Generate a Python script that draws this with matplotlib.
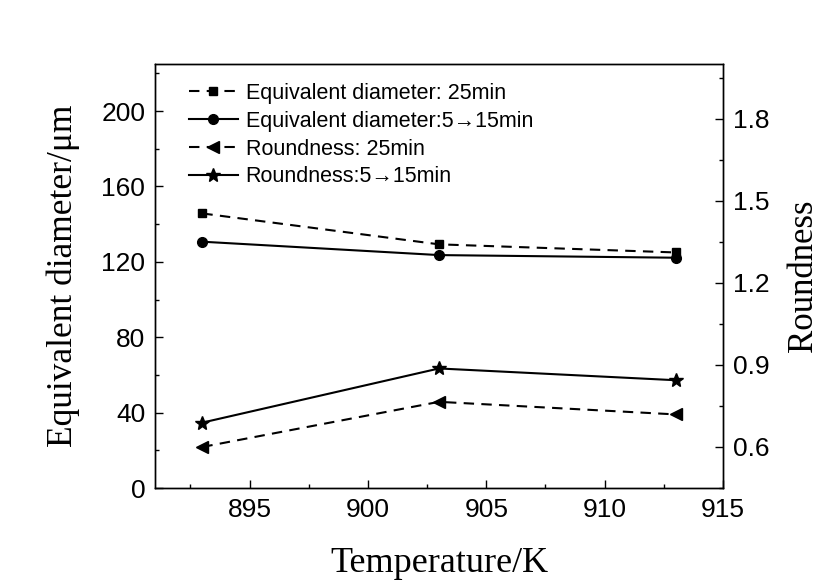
import matplotlib
matplotlib.use("Agg")
import matplotlib.pyplot as plt
from matplotlib.ticker import MultipleLocator

temperature = [893, 903, 913]
ed_25min = [145.7, 129.3, 125.0]
ed_5_15min = [130.7, 123.6, 122.2]
round_25min = [0.600, 0.765, 0.719]
round_5_15min = [0.689, 0.887, 0.844]

labels = ["Equivalent diameter: 25min",
          "Equivalent diameter:5\u219215min",
          "Roundness: 25min",
          "Roundness:5\u219215min"]

sans = ["Liberation Sans", "DejaVu Sans"]
serif = ["Liberation Serif", "DejaVu Serif"]
plt.rcParams['font.family'] = sans

fig = plt.figure(figsize=(8.23, 5.85), dpi=100)
ax1 = fig.add_axes([155/823, 1-488/585, (723-155)/823, (488-64)/585])
ax2 = ax1.twinx()

dash = (0, (5, 3.5))
lw = 1.5
l1, = ax1.plot(temperature, ed_25min, color='black', lw=lw, linestyle=dash,
               marker='s', ms=6)
l2, = ax1.plot(temperature, ed_5_15min, color='black', lw=lw, linestyle='-',
               marker='o', ms=7)
l3, = ax2.plot(temperature, round_25min, color='black', lw=lw, linestyle=dash,
               marker='<', ms=8)
l4, = ax2.plot(temperature, round_5_15min, color='black', lw=lw, linestyle='-',
               marker='*', ms=10.5)

ax1.set_xlim(891, 915)
ax1.set_ylim(0, 225)
ax2.set_ylim(0.45, 2.0)

ax1.xaxis.set_major_locator(MultipleLocator(5))
ax1.xaxis.set_minor_locator(MultipleLocator(2.5))
ax1.yaxis.set_major_locator(MultipleLocator(40))
ax1.yaxis.set_minor_locator(MultipleLocator(20))
ax2.yaxis.set_major_locator(MultipleLocator(0.3))
ax2.yaxis.set_minor_locator(MultipleLocator(0.15))
ax2.set_yticks([0.6, 0.9, 1.2, 1.5, 1.8])

for ax in (ax1, ax2):
    ax.tick_params(which='major', direction='in', length=6, width=1.0,
                   labelsize=19, pad=7)
    ax.tick_params(which='minor', direction='in', length=3.2, width=1.0)
    for s in ax.spines.values():
        s.set_linewidth(1.0)
ax1.tick_params(axis='both', which='both', top=False, right=False)
ax2.tick_params(axis='y', which='both', left=False, right=True)

ax1.set_xlabel("Temperature/K", fontsize=26, family=serif)
ax1.set_ylabel("Equivalent diameter/\u03bcm", fontsize=25.5, family=serif)
ax2.set_ylabel("Roundness", fontsize=25, family=serif, rotation=90)
ax1.xaxis.set_label_coords(0.5, -0.14)
ax1.yaxis.set_label_coords(-0.132, 0.5)
ax2.yaxis.set_label_coords(1.113, 0.5)

leg = ax1.legend([l1, l2, l3, l4], labels, loc='upper left', frameon=False,
                 fontsize=15.5, handlelength=2.3, handletextpad=0.35,
                 labelspacing=0.32, bbox_to_anchor=(0.044, 0.976),
                 borderaxespad=0.0)

fig.savefig("out.png", dpi=100)
